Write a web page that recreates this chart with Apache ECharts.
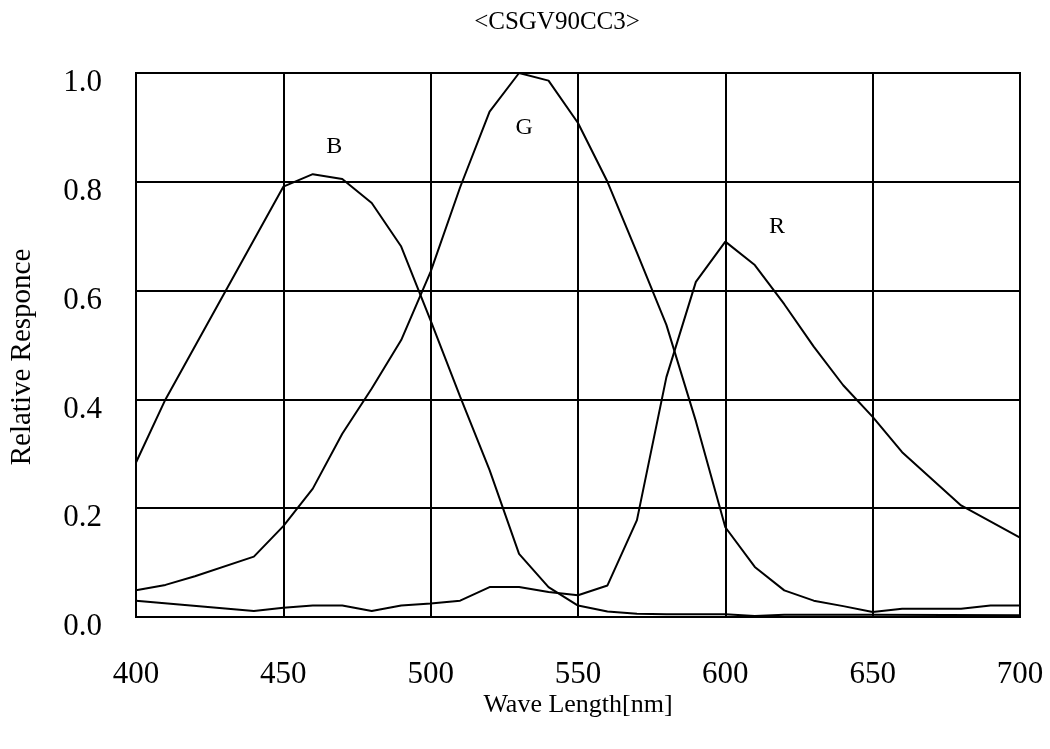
<!DOCTYPE html>
<html><head><meta charset="utf-8">
<script src="https://cdn.jsdelivr.net/npm/echarts@6/dist/echarts.min.js"></script>
<style>html,body{margin:0;padding:0;background:#fff}#c{width:1050px;height:749px}</style>
</head><body><div id="c"></div>
<script>
const title = '<CSGV90CC3>';
const xName = 'Wave Length[nm]';
const yName = 'Relative Responce';
const xTicks = [400, 450, 500, 550, 600, 650, 700];
const yTicks = [0.0, 0.2, 0.4, 0.6, 0.8, 1.0];

const bWave = [400, 410, 450, 460, 470, 480, 490, 500, 510, 520, 530, 540, 550, 560, 570, 580, 590, 600, 610, 620, 650, 700];
const bResp = [0.284, 0.40, 0.791, 0.814, 0.805, 0.761, 0.681, 0.545, 0.405, 0.27, 0.116, 0.055, 0.021, 0.010, 0.006, 0.005, 0.005, 0.005, 0.002, 0.004, 0.004, 0.003];

const gWave = [400, 410, 420, 440, 450, 460, 470, 480, 490, 500, 510, 520, 530, 540, 550, 560, 570, 580, 590, 600, 610, 620, 630, 640, 650, 660, 680, 690, 700];
const gResp = [0.049, 0.059, 0.075, 0.111, 0.167, 0.236, 0.337, 0.42, 0.509, 0.635, 0.79, 0.929, 1.0, 0.986, 0.908, 0.80, 0.67, 0.537, 0.36, 0.165, 0.092, 0.049, 0.030, 0.020, 0.009, 0.015, 0.015, 0.021, 0.021];

const rWave = [400, 440, 450, 460, 470, 480, 490, 500, 510, 520, 530, 540, 550, 560, 570, 580, 590, 600, 610, 620, 630, 640, 650, 660, 680, 700];
const rResp = [0.030, 0.011, 0.017, 0.021, 0.021, 0.011, 0.021, 0.025, 0.030, 0.055, 0.055, 0.046, 0.040, 0.058, 0.178, 0.441, 0.616, 0.69, 0.647, 0.575, 0.497, 0.426, 0.368, 0.303, 0.205, 0.146];

const curveNames = ['B', 'G', 'R'];
const labelAt = [[467.3, 0.864], [531.7, 0.899], [617.5, 0.717]];

const font = '"Liberation Serif", "Times New Roman", serif';
function pairs(xs, ys) { return xs.map((x, i) => [x, ys[i]]); }
const curves = [pairs(bWave, bResp), pairs(gWave, gResp), pairs(rWave, rResp)];

const chart = echarts.init(document.getElementById('c'), null, {renderer: 'canvas'});
chart.setOption({
  animation: false,
  backgroundColor: '#fff',
  graphic: [{type: 'text', x: 557, y: 22, z: 10,
    style: {text: title, textAlign: 'center', textVerticalAlign: 'middle', fontFamily: font, fontSize: 25, fill: '#000'}}],
  grid: {left: 135, right: 30, top: 73, bottom: 132, show: true, borderColor: '#000', borderWidth: 2, backgroundColor: 'transparent'},
  xAxis: {type: 'value', min: xTicks[0], max: xTicks[xTicks.length - 1], interval: 50,
    name: xName, nameLocation: 'middle', nameGap: 75, nameMoveOverlap: false,
    nameTextStyle: {fontFamily: font, fontSize: 26, color: '#000'},
    axisLine: {show: true, lineStyle: {color: '#000', width: 2}},
    axisTick: {show: false},
    axisLabel: {margin: 42, fontFamily: font, fontSize: 31, color: '#000'},
    splitLine: {show: true, lineStyle: {color: '#000', width: 2}}},
  yAxis: {type: 'value', min: yTicks[0], max: yTicks[yTicks.length - 1], interval: 0.2,
    name: yName, nameLocation: 'middle', nameGap: 99, nameRotate: 90, nameMoveOverlap: false,
    nameTextStyle: {fontFamily: font, fontSize: 29, color: '#000', padding: [0, 24, 0, 0]},
    axisLine: {show: true, lineStyle: {color: '#000', width: 2}},
    axisTick: {show: false},
    axisLabel: {margin: 34, fontFamily: font, fontSize: 31, color: '#000', verticalAlign: 'top', lineHeight: 20,
      formatter: v => v.toFixed(1)},
    splitLine: {show: true, lineStyle: {color: '#000', width: 2}}},
  series: curves.map((d, i) => ({
    type: 'line', name: curveNames[i], data: d, symbol: 'none', smooth: false,
    lineStyle: {color: '#000', width: 2}, z: 3,
    markPoint: {symbol: 'circle', symbolSize: 0,
      data: [{coord: labelAt[i], value: curveNames[i]}],
      label: {show: true, position: 'inside', formatter: curveNames[i], fontFamily: font, fontSize: 24, color: '#000'}}
  }))
});
</script></body></html>
